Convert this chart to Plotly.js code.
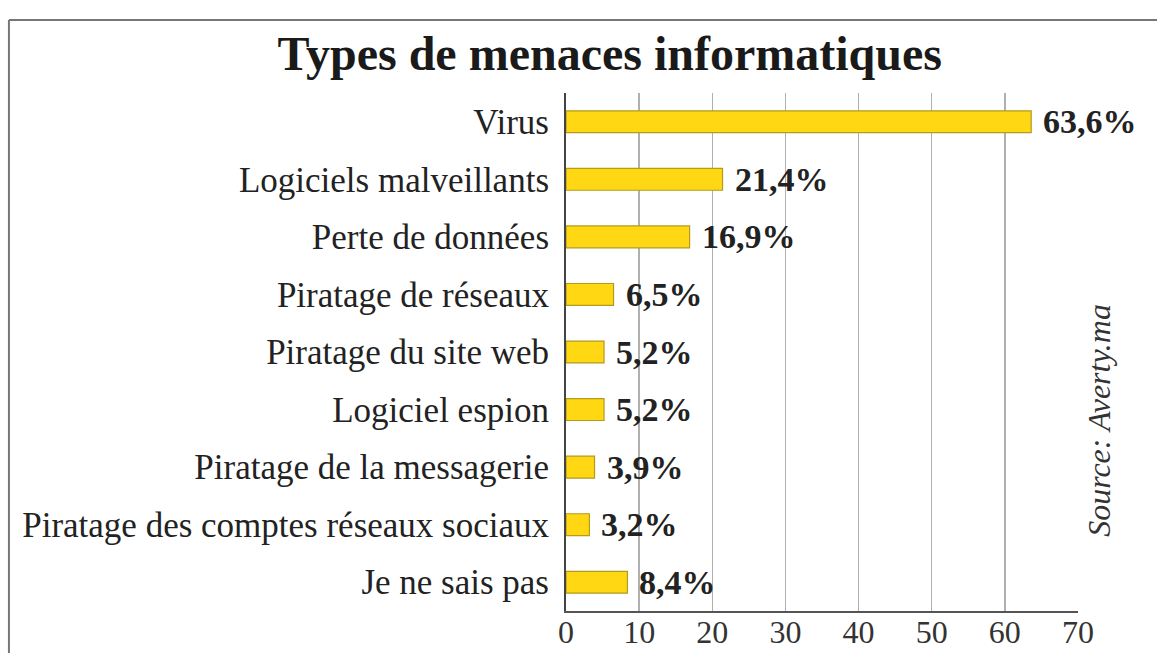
<!DOCTYPE html>
<html>
<head>
<meta charset="utf-8">
<script src="https://cdn.plot.ly/plotly-3.0.1.min.js"></script>
<style>html,body{margin:0;padding:0;background:#fff;}#chart{width:1157px;height:653px;}</style>
</head>
<body>
<div id="chart"></div>
<script>
const categories = [
  "Virus",
  "Logiciels malveillants",
  "Perte de données",
  "Piratage de réseaux",
  "Piratage du site web",
  "Logiciel espion",
  "Piratage de la messagerie",
  "Piratage des comptes réseaux sociaux",
  "Je ne sais pas"
];
const values = [63.6, 21.4, 16.9, 6.5, 5.2, 5.2, 3.9, 3.2, 8.4];
const valueLabels = ["63,6%", "21,4%", "16,9%", "6,5%", "5,2%", "5,2%", "3,9%", "3,2%", "8,4%"];
const xTicks = [0, 10, 20, 30, 40, 50, 60, 70];

const serif = "Liberation Serif, Times New Roman, serif";

const trace = {
  type: "bar",
  orientation: "h",
  y: categories,
  x: values,
  marker: {color: "#FFD712", line: {color: "#B39B1E", width: 1.2}},
  width: 0.38,
  hoverinfo: "skip"
};

const valueAnnotations = values.map((v, i) => ({
  x: v, y: categories[i], xref: "x", yref: "y",
  text: "<b>" + valueLabels[i] + "</b>",
  showarrow: false, xanchor: "left", yanchor: "middle", xshift: 10,
  font: {family: serif, size: 34, color: "#222"}
}));

const layout = {
  width: 1157,
  height: 653,
  margin: {l: 566, r: 79, t: 93, b: 42},
  paper_bgcolor: "#fff",
  plot_bgcolor: "#fff",
  showlegend: false,
  title: {
    text: "<b>Types de menaces informatiques</b>",
    font: {family: serif, size: 48, color: "#1a1a1a"},
    x: 0.527, xanchor: "center",
    y: 0.918, yanchor: "middle"
  },
  xaxis: {
    range: [0, 70],
    tickvals: xTicks,
    ticktext: xTicks.map(String),
    showgrid: true,
    gridcolor: "#b0b0b0",
    gridwidth: 1.5,
    zeroline: false,
    showline: true,
    linecolor: "#555",
    linewidth: 2,
    ticks: "",
    ticklabelstandoff: -8,
    tickfont: {family: serif, size: 32, color: "#333"},
    fixedrange: true
  },
  yaxis: {
    autorange: "reversed",
    showgrid: false,
    zeroline: false,
    showline: true,
    linecolor: "#444",
    linewidth: 2,
    ticks: "",
    ticklabelstandoff: 8,
    tickfont: {family: serif, size: 35, color: "#222"},
    fixedrange: true
  },
  annotations: valueAnnotations.concat([{
    text: "<i>Source: Averty.ma</i>",
    xref: "paper", yref: "paper",
    x: 1.041, y: 0.369,
    xanchor: "center", yanchor: "middle",
    textangle: -90,
    showarrow: false,
    font: {family: serif, size: 32, color: "#333"}
  }]),
  shapes: [
    {type: "line", xref: "paper", yref: "paper", x0: -1.088, x1: 1.16, y0: 1.141, y1: 1.141,
     line: {color: "#777", width: 2}},
    {type: "line", xref: "paper", yref: "paper", x0: -1.088, x1: -1.088, y0: 1.141, y1: -0.12,
     line: {color: "#777", width: 2}}
  ]
};

Plotly.newPlot("chart", [trace], layout, {displayModeBar: false, staticPlot: true});
</script>
</body>
</html>
